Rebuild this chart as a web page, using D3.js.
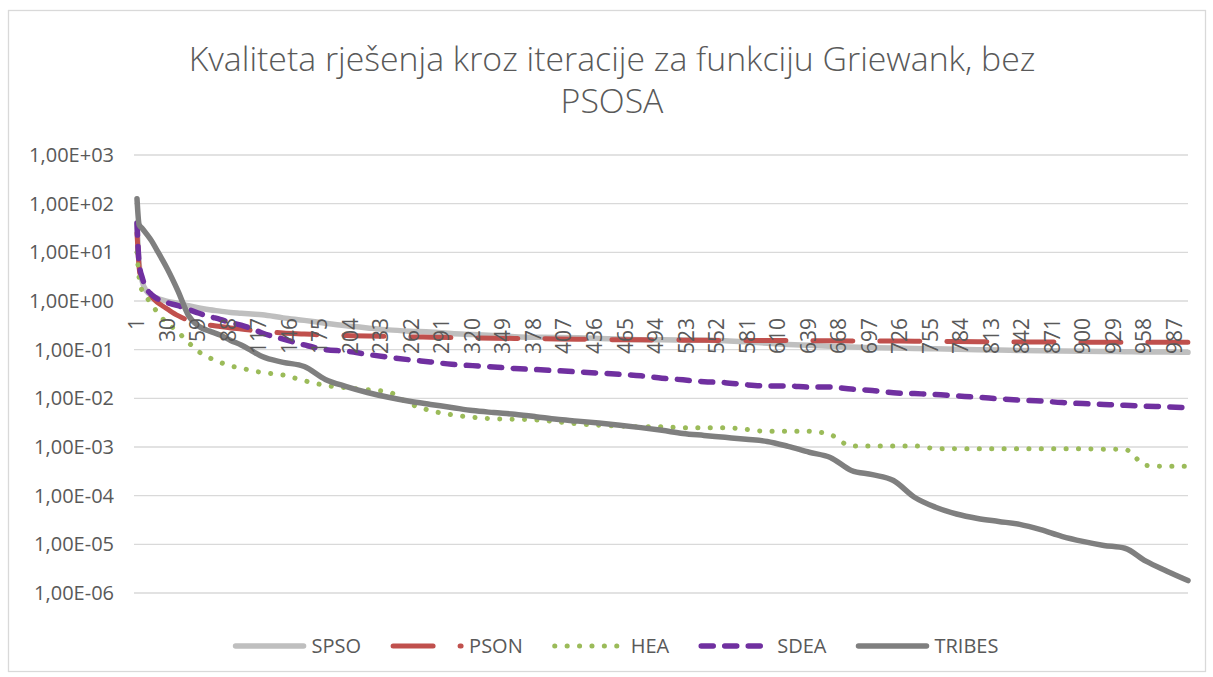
<!DOCTYPE html>
<html>
<head>
<meta charset="utf-8">
<script src="https://cdn.jsdelivr.net/npm/d3@7"></script>
<style>
  body { margin: 0; background: #fff; }
  text { font-family: "Open Sans", sans-serif; fill: #595959; }
</style>
</head>
<body>
<div id="chart"></div>
<script>

var iterations = [1, 3, 6, 10, 15, 20, 25, 30, 40, 50, 60, 70, 80, 90, 100, 110, 120,
    140, 160, 180, 200, 220, 240, 260, 280, 300, 320, 340, 360, 380, 400, 420, 440, 460, 480,
    500, 520, 540, 560, 580, 600, 620, 640, 660, 680, 700, 720, 740, 760, 780, 800, 820, 840,
    860, 880, 900, 920, 940, 960, 980, 1000];

var spso = [40, 6, 2.5, 1.6, 1.3, 1.15, 1.05, 0.98, 0.9, 0.8, 0.72, 0.66, 0.62, 0.58, 0.56, 0.54, 0.52,
    0.45, 0.4, 0.35, 0.31, 0.28, 0.255, 0.24, 0.23, 0.215, 0.205, 0.195, 0.185, 0.18, 0.178, 0.175, 0.17, 0.165, 0.16,
    0.16, 0.158, 0.156, 0.153, 0.145, 0.135, 0.128, 0.123, 0.117, 0.113, 0.11, 0.108, 0.106, 0.104, 0.102, 0.1, 0.098, 0.096,
    0.095, 0.094, 0.093, 0.092, 0.091, 0.09, 0.09, 0.088];

var pson = [25, 5, 2.2, 1.6, 1.2, 0.95, 0.8, 0.68, 0.5, 0.4, 0.35, 0.32, 0.3, 0.28, 0.265, 0.25, 0.24,
    0.22, 0.21, 0.2, 0.195, 0.19, 0.187, 0.183, 0.18, 0.177, 0.174, 0.172, 0.17, 0.168, 0.166, 0.164, 0.162, 0.16, 0.159,
    0.158, 0.157, 0.156, 0.155, 0.155, 0.154, 0.154, 0.153, 0.152, 0.151, 0.15, 0.15, 0.149, 0.148, 0.147, 0.146, 0.145, 0.144,
    0.143, 0.143, 0.142, 0.142, 0.142, 0.142, 0.142, 0.142];

var hea = [10, 3, 1.6, 1.2, 0.85, 0.6, 0.44, 0.35, 0.23, 0.14, 0.09, 0.068, 0.055, 0.046, 0.042, 0.037, 0.034,
    0.03, 0.023, 0.0185, 0.0165, 0.015, 0.0135, 0.0078, 0.0056, 0.0046, 0.0041, 0.0038, 0.0037, 0.0036, 0.0033, 0.003, 0.0028, 0.0027, 0.0026,
    0.0026, 0.0025, 0.0025, 0.0025, 0.0023, 0.0021, 0.0021, 0.0021, 0.0018, 0.00105, 0.00105, 0.00105, 0.00105, 0.00093, 0.00092, 0.00092, 0.00092, 0.00092,
    0.00092, 0.00092, 0.00092, 0.0009, 0.00089, 0.00042, 0.0004, 0.0004];

var sdea = [40, 6, 3, 1.8, 1.35, 1.12, 1.0, 0.92, 0.8, 0.67, 0.56, 0.48, 0.42, 0.36, 0.32, 0.27, 0.22,
    0.165, 0.125, 0.1, 0.093, 0.08, 0.07, 0.062, 0.056, 0.05, 0.047, 0.044, 0.041, 0.039, 0.037, 0.035, 0.033, 0.031, 0.029,
    0.026, 0.024, 0.022, 0.021, 0.019, 0.018, 0.018, 0.017, 0.017, 0.0155, 0.0145, 0.013, 0.0125, 0.012, 0.0112, 0.0105, 0.0098, 0.0092,
    0.0088, 0.0082, 0.0078, 0.0075, 0.0072, 0.0069, 0.0067, 0.0064];

var tribes = [126, 37, 31, 24, 17, 11, 7.1, 4.5, 1.6, 0.5, 0.3, 0.24, 0.2, 0.155, 0.125, 0.095, 0.072,
    0.055, 0.045, 0.0245, 0.0175, 0.0132, 0.0105, 0.0087, 0.0075, 0.0065, 0.0056, 0.0051, 0.0047, 0.0042, 0.0037, 0.0034, 0.0031, 0.0028, 0.0025,
    0.0022, 0.0019, 0.00173, 0.00158, 0.00144, 0.0013, 0.00103, 0.00078, 0.00061, 0.00033, 0.00027, 0.000205, 9.3e-5, 5.8e-5, 4.2e-5, 3.4e-5, 2.95e-5, 2.57e-5,
    2.0e-5, 1.46e-5, 1.15e-5, 9.5e-6, 8.3e-6, 4.5e-6, 2.8e-6, 1.8e-6];

var seriesNames = ["SPSO", "PSON", "HEA", "SDEA", "TRIBES"];
var yTicks = [1e3, 1e2, 1e1, 1e0, 1e-1, 1e-2, 1e-3, 1e-4, 1e-5, 1e-6];
var yTickLabels = ["1,00E+03", "1,00E+02", "1,00E+01", "1,00E+00", "1,00E-01",
    "1,00E-02", "1,00E-03", "1,00E-04", "1,00E-05", "1,00E-06"];
var xTickLabels = [1, 30, 59, 88, 117, 146, 175, 204, 233, 262, 291, 320, 349, 378, 407, 436, 465,
    494, 523, 552, 581, 610, 639, 668, 697, 726, 755, 784, 813, 842, 871, 900, 929, 958, 987];
var titleLines = ["Kvaliteta rješenja kroz iteracije za funkciju Griewank, bez", "PSOSA"];

var allValues = [spso, pson, hea, sdea, tribes];

var styles = [
    {color: "#bfbfbf", width: 5.5, dash: null},
    {color: "#c0504d", width: 5, dash: "40 27"},
    {color: "#9bbb59", width: 5, dash: "0.1 12.3"},
    {color: "#7030a0", width: 5.5, dash: "12 11.5"},
    {color: "#7f7f7f", width: 5.5, dash: null}
];

var W = 1213, H = 677;
var plot = {left: 137, right: 1188, top: 155, bottom: 593};

var svg = d3.select("#chart").append("svg")
    .attr("width", W)
    .attr("height", H);

svg.append("rect")
    .attr("x", 8.5).attr("y", 10.5)
    .attr("width", 1197).attr("height", 661)
    .attr("fill", "#fff")
    .attr("stroke", "#d9d9d9")
    .attr("stroke-width", 1.3);

// title
svg.append("g").selectAll("text")
    .data(titleLines)
    .enter().append("text")
    .attr("x", 612)
    .attr("y", function(d, i) { return 71 + i * 42; })
    .attr("text-anchor", "middle")
    .style("font-size", "33.8px")
    .style("font-weight", 300)
    .text(function(d) { return d; });

// scales
var x = d3.scaleLinear()
    .domain([1, 1000])
    .range([plot.left, plot.right]);

var y = d3.scaleLog()
    .domain([1e-6, 1e3])
    .range([plot.bottom, plot.top]);

// gridlines
svg.append("g").selectAll("line")
    .data(yTicks)
    .enter().append("line")
    .attr("x1", plot.left - 3)
    .attr("x2", plot.right)
    .attr("y1", function(d) { return y(d); })
    .attr("y2", function(d) { return y(d); })
    .attr("stroke", "#d9d9d9")
    .attr("stroke-width", 1.3);

// y axis labels
svg.append("g").selectAll("text")
    .data(yTicks)
    .enter().append("text")
    .attr("x", 114)
    .attr("y", function(d) { return y(d); })
    .attr("dy", "0.35em")
    .attr("text-anchor", "end")
    .style("font-size", "20px")
    .text(function(d, i) { return yTickLabels[i]; });

// lines
var line = d3.line()
    .x(function(d) { return x(d[0]); })
    .y(function(d) { return y(d[1]); })
    .curve(d3.curveMonotoneX);

allValues.forEach(function(vals, s) {
    var pts = iterations.map(function(it, i) { return [it, vals[i]]; });
    svg.append("path")
        .datum(pts)
        .attr("d", line)
        .attr("fill", "none")
        .attr("stroke", styles[s].color)
        .attr("stroke-width", styles[s].width)
        .attr("stroke-linecap", "round")
        .attr("stroke-linejoin", "round")
        .attr("stroke-dasharray", styles[s].dash);
});

// x axis labels, axis crosses at 1, drawn over the lines
svg.append("g").selectAll("text")
    .data(xTickLabels)
    .enter().append("text")
    .attr("transform", function(d) { return "translate(" + x(d) + "," + (y(1) + 17) + ") rotate(-90)"; })
    .attr("dy", "0.35em")
    .attr("text-anchor", "end")
    .style("font-size", "21px")
    .text(function(d) { return d; });

// legend
var legend = svg.append("g");
var lx = 0;
seriesNames.forEach(function(name, s) {
    var g = legend.append("g").attr("transform", "translate(" + lx + ",0)");
    g.append("line")
        .attr("x1", 2).attr("x2", 70)
        .attr("y1", 0).attr("y2", 0)
        .attr("stroke", styles[s].color)
        .attr("stroke-width", styles[s].width)
        .attr("stroke-linecap", "round")
        .attr("stroke-dasharray", styles[s].dash);
    var t = g.append("text")
        .attr("x", 78)
        .attr("y", 0)
        .attr("dy", "0.35em")
        .style("font-size", "20px")
        .text(name);
    lx += 78 + t.node().getComputedTextLength() + 30;
});
lx -= 30;
legend.attr("transform", "translate(" + (616 - lx / 2) + ",646)");

</script>
</body>
</html>
